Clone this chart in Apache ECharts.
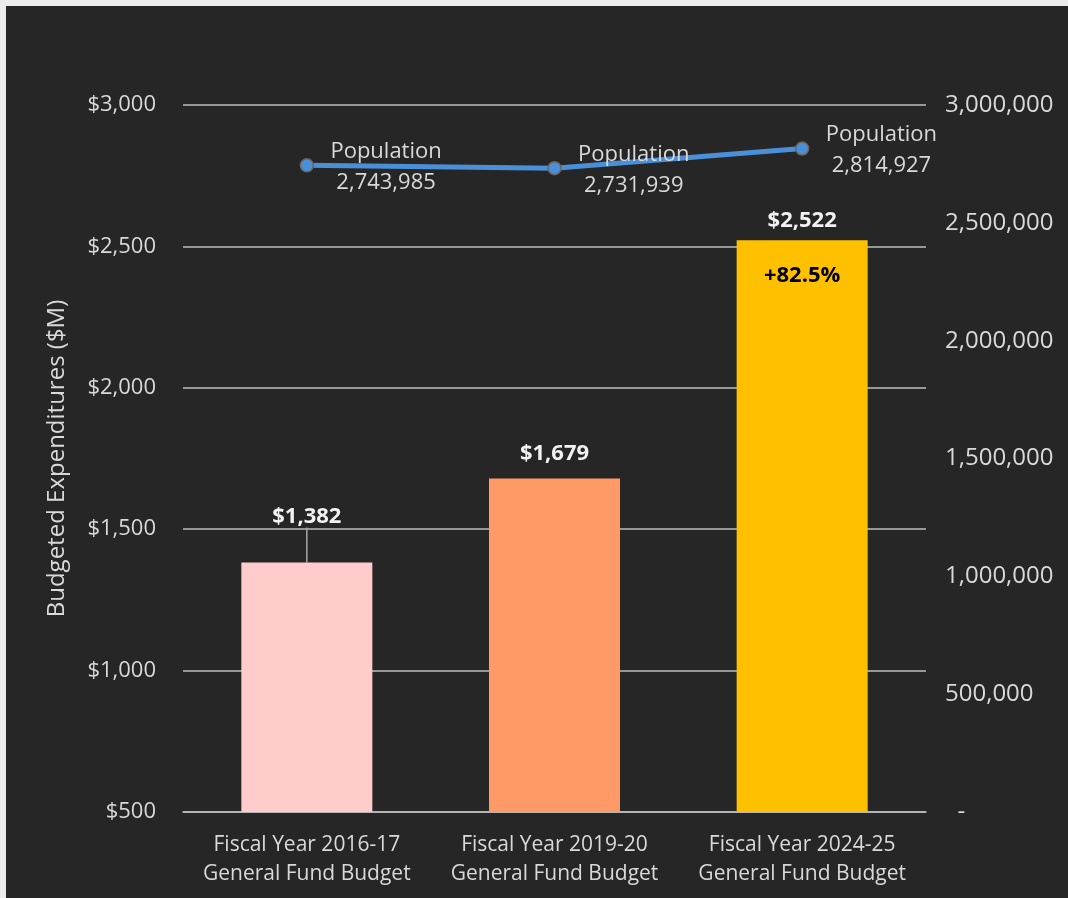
<!DOCTYPE html>
<html>
<head>
<meta charset="utf-8">
<script src="https://cdn.jsdelivr.net/npm/echarts@6/dist/echarts.min.js"></script>
<style>
  html, body { margin: 0; padding: 0; background: #ececec; }
  #chart { position: absolute; left: 6px; top: 6px; width: 1062px; height: 892px; background: #262626; }
</style>
</head>
<body>
<div id="chart"></div>
<script>
var categories = ['Fiscal Year 2016-17\nGeneral Fund Budget', 'Fiscal Year 2019-20\nGeneral Fund Budget', 'Fiscal Year 2024-25\nGeneral Fund Budget'];
var budget = [1382, 1679, 2522];
var population = [2743985, 2731939, 2814927];
var growth = ['', '', '+82.5%'];
var barColors = ['#ffcccc', '#ff9966', '#ffc000'];
var leftTicks = { min: 500, max: 3000, interval: 500 };
var rightTicks = { min: 0, max: 3000000, interval: 500000 };

var font = '"Open Sans", "DejaVu Sans", sans-serif';
var textColor = '#d9d9d9';
var chart = echarts.init(document.getElementById('chart'));

function fmtNum(v) { return v.toLocaleString('en-US'); }

chart.setOption({
  animation: false,
  textStyle: { fontFamily: font },
  grid: { left: 177, right: 142, top: 99, bottom: 86 },
  xAxis: {
    type: 'category',
    data: categories,
    axisTick: { show: false },
    axisLine: { lineStyle: { color: '#bfbfbf', width: 1.5 } },
    axisLabel: { color: textColor, fontSize: 21, lineHeight: 29, margin: 19, interval: 0 }
  },
  yAxis: [
    {
      type: 'value',
      min: leftTicks.min, max: leftTicks.max, interval: leftTicks.interval,
      name: 'Budgeted Expenditures ($M)',
      nameLocation: 'middle',
      nameGap: 114,
      nameTextStyle: { color: textColor, fontSize: 24 },
      axisLine: { show: false },
      axisTick: { show: false },
      axisLabel: { color: textColor, fontSize: 22, margin: 27, formatter: function(v) { return '$' + fmtNum(v); } },
      splitLine: { lineStyle: { color: '#bfbfbf', width: 1.5 } }
    },
    {
      type: 'value',
      min: rightTicks.min, max: rightTicks.max, interval: rightTicks.interval,
      position: 'right',
      axisLine: { show: false },
      axisTick: { show: false },
      splitLine: { show: false },
      axisLabel: { color: textColor, fontSize: 24, margin: 19, formatter: function(v) { return v === 0 ? '  -' : fmtNum(v); } }
    }
  ],
  series: [
    {
      type: 'bar',
      barWidth: 131,
      barGap: '-100%',
      data: budget.map(function(v, i) {
        return {
          value: v,
          itemStyle: { color: barColors[i] },
          label: { distance: [8, 14, 8][i] },
          labelLine: { show: i === 0 }
        };
      }),
      label: {
        show: true,
        position: 'top',
        color: '#f2f2f2',
        fontSize: 22,
        fontWeight: 'bold',
        formatter: function(p) { return '$' + fmtNum(p.value); }
      },
      labelLayout: function(p) {
        return p.dataIndex === 0 ? { dy: -27 } : {};
      },
      labelLine: { show: false, lineStyle: { color: '#a6a6a6', width: 1.5 } },
      z: 2
    },
    {
      type: 'bar',
      barWidth: 131,
      barGap: '-100%',
      data: budget,
      itemStyle: { color: 'rgba(0,0,0,0)' },
      label: {
        show: true,
        position: 'insideTop',
        distance: 25,
        color: '#000000',
        fontSize: 22,
        fontWeight: 'bold',
        formatter: function(p) { return growth[p.dataIndex]; }
      },
      silent: true,
      z: 3
    },
    {
      type: 'line',
      yAxisIndex: 1,
      data: population,
      symbol: 'circle',
      symbolSize: 13,
      lineStyle: { color: '#4a90d9', width: 5 },
      itemStyle: { color: '#4a90d9', borderColor: '#6e6358', borderWidth: 1.5 },
      label: {
        show: true,
        position: 'right',
        distance: 15,
        offset: [0, 2],
        formatter: function(p) { return '{a|Population}\n{a|' + fmtNum(p.value) + '}'; },
        rich: { a: { color: textColor, fontSize: 22, lineHeight: 31, width: 114, align: 'center', fontFamily: font } }
      },
      z: 5
    }
  ]
});
</script>
</body>
</html>
